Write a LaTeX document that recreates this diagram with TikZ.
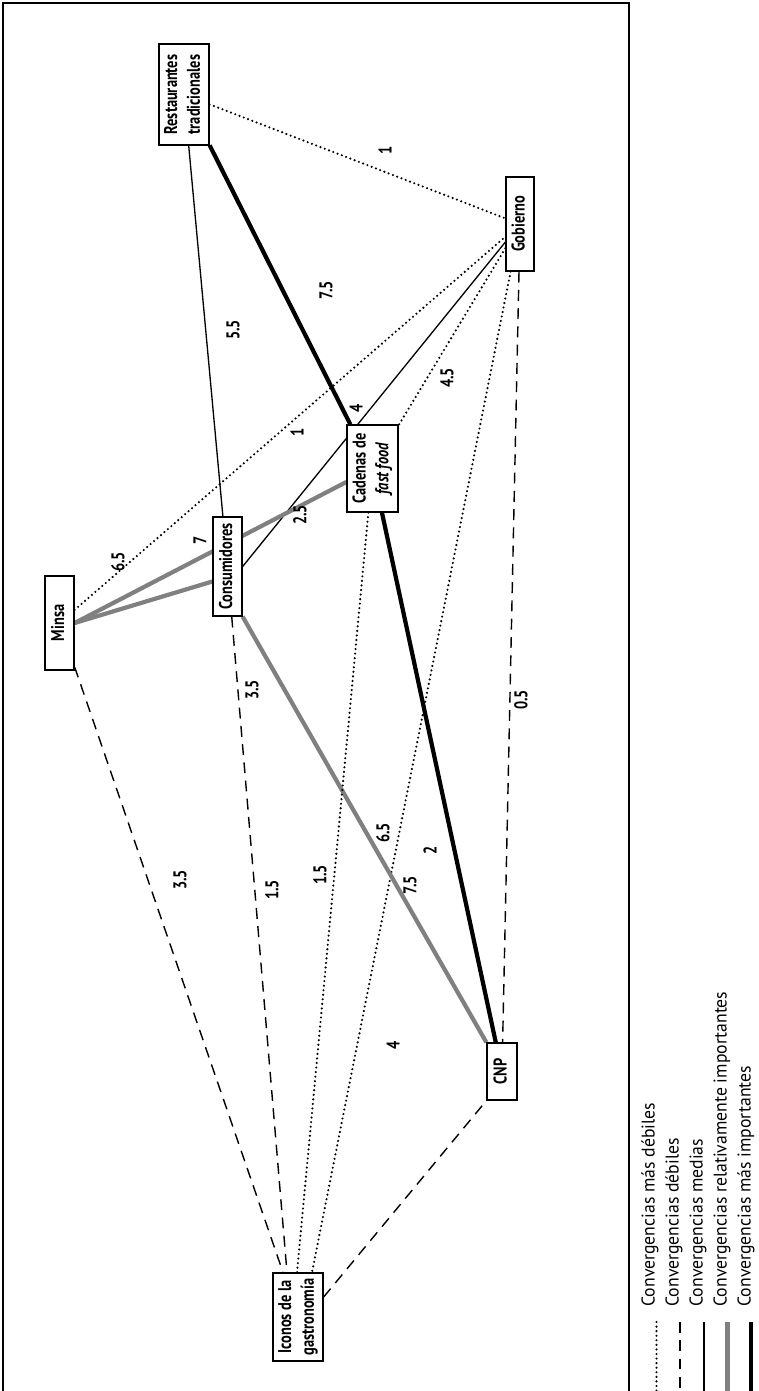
\documentclass[tikz,border=0pt]{standalone}
\usepackage{fontspec}
\setmainfont{PT Sans}
\newfontfamily\nfont{PT Sans}[FakeStretch=0.78]
\newfontfamily\lfont{PT Sans}[FakeStretch=0.96]
\usetikzlibrary{calc}
\pgfdeclarelayer{bg}
\pgfsetlayers{bg,main}
\tikzset{
  box/.style={draw, fill=white, line width=0.75pt, inner sep=0pt,
    font=\nfont\bfseries\fontsize{10.5}{13}\selectfont},
  num/.style={inner sep=0pt, rotate=90,
    font=\nfont\bfseries\fontsize{10.5}{12}\selectfont},
  weakest/.style={line width=1.35pt, line cap=round, dash pattern=on 0pt off 2.6pt},
  weak/.style={line width=0.8pt, dash pattern=on 6.2pt off 4.2pt},
  medium/.style={line width=0.75pt},
  relimp/.style={line width=2.4pt, draw=black!50},
  strongest/.style={line width=2.4pt},
  legtxt/.style={inner sep=0pt, rotate=90, anchor=west,
    font=\lfont\fontsize{10.5}{12}\selectfont},
  frame/.style={line width=0.85pt},
}
\newcommand{\rt}[1]{\rotatebox{90}{\begin{tabular}{@{}c@{}}#1\end{tabular}}}
\begin{document}
\begin{tikzpicture}[x=0.02cm,y=-0.02cm]
\useasboundingbox (0,0) rectangle (759,1391);
\draw[frame] (3,1391) -- (3,3) -- (629,3) -- (629,1391);

% actors
\node[box, minimum width=1.00cm, minimum height=2.02cm] (rest) at (184,94.5) {\rt{Restaurantes\\tradicionales}};
\node[box, minimum width=0.56cm, minimum height=1.88cm] (gob) at (520,224) {\rt{Gobierno}};
\node[box, minimum width=1.02cm, minimum height=1.74cm] (cad) at (372.5,468.5) {\rt{Cadenas de\\\textit{fast food}}};
\node[box, minimum width=0.58cm, minimum height=1.98cm] (cons) at (227.5,566.5) {\rt{Consumidores}};
\node[box, minimum width=0.58cm, minimum height=1.88cm] (minsa) at (59.5,623) {\rt{Minsa}};
\node[box, minimum width=0.60cm, minimum height=1.14cm] (cnp) at (502,1071.5) {\rt{CNP}};
\node[box, minimum width=1.00cm, minimum height=1.76cm] (icon) at (298,1317) {\rt{Iconos de la\\gastronomía}};

% connectors
\begin{pgfonlayer}{bg}
\draw[weakest] (rest) -- (gob);
\draw[medium] (rest) -- (cons);
\draw[strongest] (rest) -- (cad);
\draw[weakest] (minsa) -- (gob);
\draw[medium] (gob) -- (cons.east);
\draw[weakest] (gob) -- (cad);
\draw[weak] (gob) -- (cnp);
\draw[weakest] (gob) -- ($(icon.north)+(14,0)$);
\draw[relimp] (minsa.east) -- ($(cons.west)+(0,15)$);
\draw[relimp] (minsa.east) -- ($(cad.west)+(0,13.5)$);
\draw[weak] (minsa) -- ($(icon.north)+(-15,0)$);
\draw[weak] (cons) -- ($(icon.north)+(-11,0)$);
\draw[relimp] (cons.south east) -- (cnp.north west);
\draw[strongest] (cad) -- (cnp);
\draw[weakest] (cad) -- ($(icon.north)+(-1,0)$);
\draw[weak] ($(icon.east)+(0,-20)$) -- (cnp.south west);
\end{pgfonlayer}

% values
\node[num] (v1) at (385,150) {1};
\node[num] (v2) at (326,290) {7.5};
\node[num] (v3) at (233,330) {5.5};
\node[num] (v4) at (297,432) {1};
\node[num] (v5) at (356,408) {4};
\node[num] (v6) at (447,378) {4.5};
\node[num] (v7) at (118,562) {6.5};
\node[num] (v8) at (200,540) {7};
\node[num] (v9) at (300,515) {2.5};
\node[num] (v10) at (252,690) {3.5};
\node[num] (v11) at (180,880) {3.5};
\node[num] (v12) at (272,890) {1.5};
\node[num] (v13) at (320,875) {1.5};
\node[num] (v14) at (383,833) {6.5};
\node[num] (v15) at (430,850) {2};
\node[num] (v16) at (410,885) {7.5};
\node[num] (v17) at (521,700) {0.5};
\node[num] (v18) at (393,1045) {4};

% legend
\node[legtxt] (t1) at (650,1307) {Convergencias más débiles};
\node[legtxt] (t2) at (674,1307) {Convergencias débiles};
\node[legtxt] (t3) at (698,1307) {Convergencias medias};
\node[legtxt] (t4) at (722,1307) {Convergencias relativamente importantes};
\node[legtxt] (t5) at (746,1307) {Convergencias más importantes};
\coordinate (s1) at (656.5,1322); \coordinate (e1) at (656.5,1391);
\coordinate (s2) at (680,1322);   \coordinate (e2) at (680,1391);
\coordinate (s3) at (704,1322);   \coordinate (e3) at (704,1391);
\coordinate (s4) at (727.5,1322); \coordinate (e4) at (727.5,1391);
\coordinate (s5) at (751,1322);   \coordinate (e5) at (751,1391);
\draw[weakest] (s1) -- (e1);
\draw[weak] (s2) -- (e2);
\draw[medium] (s3) -- (e3);
\draw[relimp] (s4) -- (e4);
\draw[strongest] (s5) -- (e5);
\end{tikzpicture}
\end{document}
